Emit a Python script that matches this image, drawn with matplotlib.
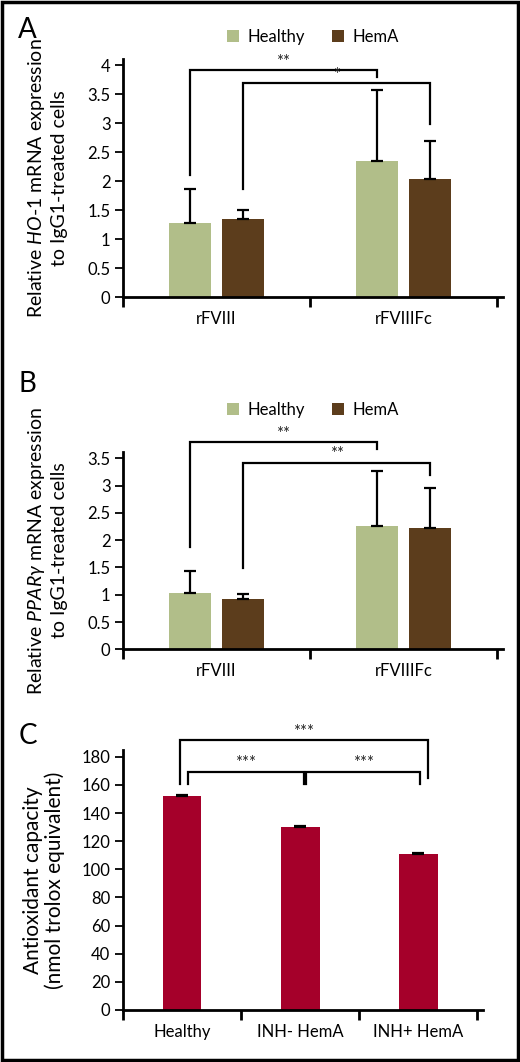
import matplotlib
matplotlib.use('Agg')
import matplotlib.pyplot as plt
import numpy as np

plt.rcParams['font.family'] = ['Lato', 'DejaVu Sans']
plt.rcParams['mathtext.fontset'] = 'custom'
plt.rcParams['mathtext.rm'] = 'Lato'
plt.rcParams['mathtext.it'] = 'Lato:italic'
plt.rcParams['mathtext.fallback'] = 'stixsans'

# data
groups = ['rFVIII', 'rFVIIIFc']
series = ['Healthy', 'HemA']
colors = ['#b1be89', '#5c3d1c']

ho1_healthy = [1.28, 2.34]
ho1_hema = [1.35, 2.03]
ho1_err_healthy = [0.59, 1.23]
ho1_err_hema = [0.15, 0.66]

ppar_healthy = [1.03, 2.26]
ppar_hema = [0.93, 2.23]
ppar_err_healthy = [0.41, 1.01]
ppar_err_hema = [0.08, 0.72]

c_labels = ['Healthy', 'INH- HemA', 'INH+ HemA']
c_values = [152.3, 130.3, 111.1]
c_err = [0.5, 0.5, 0.5]

# brackets: (left x, right x, top, left leg bottom, right leg bottom, stars)
ho1_sig = [(0, 2, 3.91, 2.10, 3.79, '**'), (1, 3, 3.69, 1.87, 2.98, '*')]
ppar_sig = [(0, 2, 3.80, 1.88, 3.67, '**'), (1, 3, 3.42, 1.49, 3.20, '**')]
c_sig = [(0, 2, 191.9, 160.4, 164.7, '***'), (0, 1, 169.4, 160.4, 160.4, '***'),
         (1, 2, 169.4, 160.4, 160.4, '***')]

fig = plt.figure(figsize=(5.2, 10.62), dpi=100)

bw = 0.225
off = 0.142


def style_axes(ax, ncat, xmax):
    for s in ['top', 'right']:
        ax.spines[s].set_visible(False)
    for s in ['left', 'bottom']:
        ax.spines[s].set_linewidth(2)
    ax.set_xlim(-0.5, xmax)
    ax.set_xticks(np.arange(ncat + 1) - 0.5)
    ax.set_xticklabels([])
    ax.tick_params(axis='x', which='major', direction='out', length=7, width=2)
    ax.tick_params(axis='y', direction='out', length=6, width=1.3, labelsize=12, pad=3)
    ax.tick_params(axis='x', which='minor', length=0, labelsize=12, pad=10)


def draw_brackets(ax, xs, sig, off_pts=6):
    for l, r, top, lb, rb, s in sig:
        x0, x1 = xs[l], xs[r]
        ax.plot([x0, x0, x1, x1], [lb, top, top, rb], color='black', lw=1.6,
                clip_on=False, solid_joinstyle='miter')
        ax.annotate(s, xy=((x0 + x1) / 2, top), xytext=(0, off_pts), textcoords='offset points',
                    ha='center', va='center', fontsize=12, color='#222222', annotation_clip=False)


def grouped(ax, healthy, hema, eh, em, sig, ylim, yticks, ylabel, legy):
    x = np.arange(len(groups))
    ax.bar(x - off, healthy, bw, color=colors[0], label=series[0], zorder=2)
    ax.bar(x + off, hema, bw, color=colors[1], label=series[1], zorder=2)
    ax.errorbar(x - off, healthy, yerr=[np.zeros(len(x)), eh], fmt='none', ecolor='black',
                elinewidth=1.6, capsize=4, capthick=1.6, zorder=3)
    ax.errorbar(x + off, hema, yerr=[np.zeros(len(x)), em], fmt='none', ecolor='black',
                elinewidth=1.6, capsize=4, capthick=1.6, zorder=3)
    style_axes(ax, len(groups), 1.532)
    ax.set_xticks(x, minor=True)
    ax.set_xticklabels(groups, minor=True)
    ax.set_ylim(*ylim)
    ax.set_yticks(yticks)
    ax.set_yticklabels([('%g' % v) for v in yticks])
    ax.set_ylabel(ylabel, fontsize=14, linespacing=1.25)
    ax.yaxis.set_label_coords(-0.145, 0.5)
    bx = [x[0] - off, x[0] + off, x[1] - off, x[1] + off]
    draw_brackets(ax, bx, sig)
    ax.legend(loc='center', bbox_to_anchor=(0.5, legy), ncol=2, frameon=False, fontsize=12,
              handlelength=0.75, handleheight=0.75, handletextpad=0.5, columnspacing=1.6)


axA = fig.add_axes([0.2365, 0.7203, 0.7308, 0.2238])
grouped(axA, ho1_healthy, ho1_hema, ho1_err_healthy, ho1_err_hema, ho1_sig, (0, 4.1),
        [0, 0.5, 1, 1.5, 2, 2.5, 3, 3.5, 4],
        'Relative $\\it{HO}$-$\\it{1}$ mRNA expression\nto IgG1-treated cells', 1.094)

axB = fig.add_axes([0.2365, 0.3886, 0.7308, 0.1861])
grouped(axB, ppar_healthy, ppar_hema, ppar_err_healthy, ppar_err_hema, ppar_sig, (0, 3.62),
        [0, 0.5, 1, 1.5, 2, 2.5, 3, 3.5],
        'Relative $\\it{PPAR\\gamma}$ mRNA expression\nto IgG1-treated cells', 1.211)

# panel C
axC = fig.add_axes([0.2365, 0.049, 0.6923, 0.2448])
xc = np.arange(len(c_labels))
axC.bar(xc, c_values, 0.33, color='#a5002a', zorder=2)
axC.errorbar(xc, c_values, yerr=[np.zeros(len(xc)), c_err], fmt='none', ecolor='black',
             elinewidth=1.6, capsize=4, capthick=1.6, zorder=3)
style_axes(axC, len(c_labels), 2.55)
axC.set_xticks(xc, minor=True)
axC.set_xticklabels(c_labels, minor=True)
axC.set_ylim(0, 184.8)
axC.set_yticks(np.arange(0, 181, 20))
axC.set_ylabel('Antioxidant capacity\n(nmol trolox equivalent)', fontsize=15, linespacing=1.1)
axC.yaxis.set_label_coords(-0.161, 0.5)
cx_outer = [xc[0] - 0.02, xc[1], xc[2] + 0.08]
draw_brackets(axC, cx_outer, c_sig[:1])
draw_brackets(axC, [xc[0] + 0.05, xc[1] + 0.03], [(0, 1) + c_sig[1][2:]])
draw_brackets(axC, [xc[1] + 0.05, xc[2] + 0.02], [(0, 1) + c_sig[2][2:]])

# panel letters
fig.text(0.035, 1 - 30 / 1062, 'A', fontsize=20, va='center')
fig.text(0.035, 1 - 384 / 1062, 'B', fontsize=20, va='center')
fig.text(0.035, 1 - 736 / 1062, 'C', fontsize=20, va='center')

# outer frame
fig.add_artist(plt.Rectangle((0.003, 0.002), 0.994, 0.996, transform=fig.transFigure,
                             fill=False, edgecolor='black', lw=2.5))

fig.savefig('out.png', dpi=100)
